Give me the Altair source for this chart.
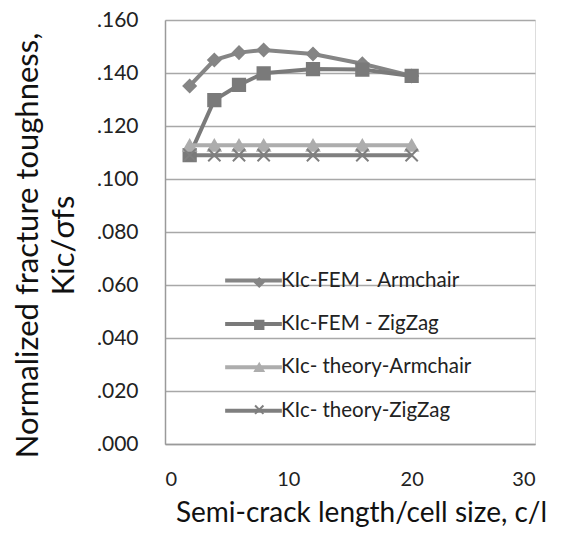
import altair as alt
import pandas as pd

x_vals = [2, 4, 6, 8, 12, 16, 20]
fem_armchair = [0.1351, 0.1449, 0.1477, 0.1487, 0.1472, 0.1435, 0.1389]
fem_zigzag = [0.1090, 0.1298, 0.1355, 0.1399, 0.1415, 0.1413, 0.1389]
theory_armchair = [0.1127] * 7
theory_zigzag = [0.1090] * 7

series_names = ["KIc-FEM - Armchair", "KIc-FEM - ZigZag", "KIc- theory-Armchair", "KIc- theory-ZigZag"]
series_codes = ["s1", "s2", "s3", "s4"]
series_colors = ["#858585", "#7a7a7a", "#adadad", "#7f7f7f"]
series_shapes = ["diamond", "square", "triangle-up", "M-1,-1L1,1M1,-1L-1,1"]

rows = []
for name, code, vals in zip(series_names, series_codes,
                            [fem_armchair, fem_zigzag, theory_armchair, theory_zigzag]):
    for xv, yv in zip(x_vals, vals):
        rows.append({"x": xv, "y": yv, "series": name, "code": code})
df = pd.DataFrame(rows)

FONT = "Lato"
LEG_FS = 20.5
color_scale = alt.Scale(domain=series_names, range=series_colors)
mcolor_scale = alt.Scale(domain=series_codes, range=series_colors)
shape_scale = alt.Scale(domain=series_codes, range=series_shapes)

LX, LY = 76, 248
ROWPAD = 20.4

color_legend = alt.Legend(
    title=None, orient="none", legendX=LX, legendY=LY,
    symbolType="M-2.7,0H2.7", symbolSize=441, symbolStrokeWidth=4,
    labelFont=FONT, labelFontSize=LEG_FS, labelColor="#222222", labelOffset=15,
    labelLimit=400, rowPadding=ROWPAD, symbolOpacity=1,
)
shape_legend = alt.Legend(
    title=None, orient="none", legendX=LX + 8, legendY=LY + 4.25,
    symbolSize=70, symbolStrokeWidth=2,
    labelFont=FONT, labelFontSize=LEG_FS, labelOpacity=0, labelOffset=2,
    labelExpr="' '", rowPadding=ROWPAD + 1, symbolOpacity=1,
)

x_enc = alt.X("x:Q", scale=alt.Scale(domain=[0, 30], nice=False),
              axis=alt.Axis(values=[0, 10, 20, 30], grid=False, tickSize=0,
                            labelPadding=25, labelFont=FONT, labelFontSize=20,
                            labelColor="#222222", domainColor="#9a9a9a", domainWidth=1.5,
                            title="Semi-crack length/cell size, c/l", titleFont=FONT,
                            titleFontSize=28, titleFontWeight="normal", titleColor="#111111",
                            titleX=196, titleY=55))
y_enc = alt.Y("y:Q", scale=alt.Scale(domain=[0, 0.16], nice=False),
              axis=alt.Axis(values=[0, 0.02, 0.04, 0.06, 0.08, 0.1, 0.12, 0.14, 0.16],
                            labelExpr="substring(format(datum.value, '.3f'), 1)",
                            grid=True, gridColor="#a8a8a8", gridWidth=1.5,
                            tickSize=0, labelPadding=27, labelFont=FONT, labelFontSize=21,
                            labelColor="#222222", domainColor="#9a9a9a", domainWidth=1.5,
                            title=["Normalized fracture toughness,", "Kic/σfs"],
                            titleFont=FONT, titleFontSize=31, titleFontWeight="normal",
                            titleColor="#111111", titleLineHeight=36,
                            titleX=-121, titleY=225))

lines = alt.Chart(df).mark_line(strokeWidth=4).encode(
    x=x_enc, y=y_enc,
    color=alt.Color("series:N", scale=color_scale, legend=color_legend),
    detail="series:N",
)
points = alt.Chart(df).mark_point(filled=True, size=150, strokeWidth=2, opacity=1).encode(
    x="x:Q", y="y:Q",
    fill=alt.Fill("code:N", scale=mcolor_scale, legend=shape_legend),
    stroke=alt.Stroke("code:N", scale=mcolor_scale, legend=shape_legend),
    shape=alt.Shape("code:N", scale=shape_scale, legend=shape_legend),
)

chart = alt.layer(lines, points).properties(
    width=370, height=424,
    autosize=alt.AutoSizeParams(type="none"),
    padding={"left": 157, "top": 12, "right": 18, "bottom": 83},
).configure_view(stroke=None).configure(background="white")

chart.save("out.html", embed_options={"renderer": "svg", "actions": False})
